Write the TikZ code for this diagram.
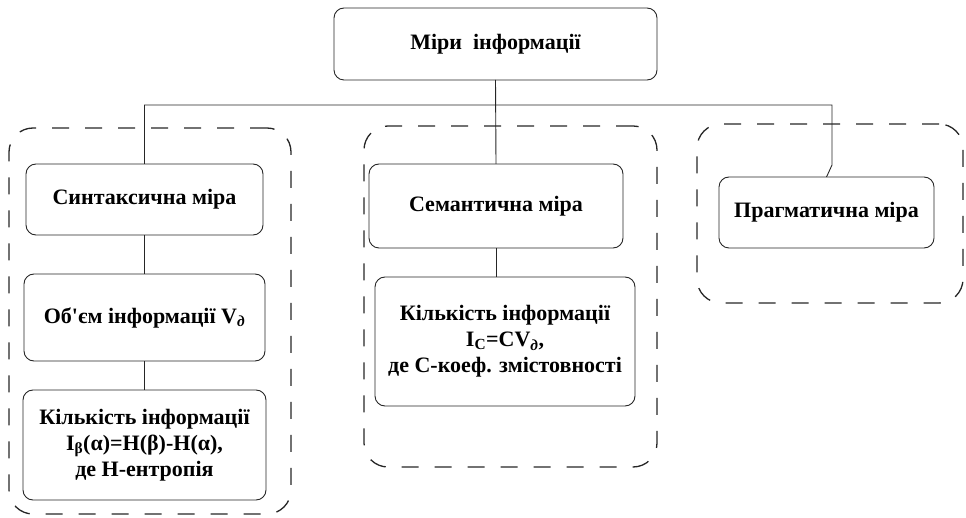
\documentclass[tikz,border=0pt]{standalone}
\usepackage{fontspec}
\setmainfont{Liberation Serif}
\newfontfamily\apfont{Liberation Serif}
\begin{document}
\begin{tikzpicture}[x=1pt,y=-1pt,
  every node/.style={inner sep=0pt, outer sep=0pt, font=\fontsize{22}{26}\selectfont\bfseries, align=center},
  box/.style={draw=black!85, line width=0.9pt, rounded corners=10pt},
  group/.style={draw=black!85, line width=1.3pt, rounded corners=24pt, dash pattern=on 17pt off 16pt},
  link/.style={draw=black!85, line width=0.9pt}]
\useasboundingbox (0,0) rectangle (966,518);
% dashed groups
\node[group, minimum width=282pt, minimum height=386pt] (g1) at (150,321) {};
\node[group, minimum width=293pt, minimum height=341pt] (g2) at (510.5,296.5) {};
\node[group, minimum width=266pt, minimum height=179pt] (g3) at (830,213.5) {};
% boxes
\node[box, minimum width=323pt, minimum height=72pt] (top) at (495.5,44) {Міри\ \ інформації};
\node[box, minimum width=241pt, minimum height=87pt] (vol) at (144.5,317.5) {Об{\apfont\bfseries '}єм інформації V\textsubscript{\textit{д}}};
\node[box, minimum width=237pt, minimum height=71pt] (syn) at (144.5,199.5) {Синтаксична міра};
\node[box, minimum width=243pt, minimum height=110pt] (qty) at (144.5,445) {Кількість інформації\\I\textsubscript{β}(α)=H(β)-H(α),\\де H-ентропія};
\node[box, minimum width=254pt, minimum height=84pt] (sem) at (496,206) {Семантична міра};
\node[box, minimum width=260pt, minimum height=129pt] (qty2) at (505,341.5) {Кількість інформації\\I\textsubscript{C}=CV\textsubscript{\textit{д}},\\де C-коеф. змістовності};
\node[box, minimum width=215pt, minimum height=71pt] (prag) at (826.5,212.5) {Прагматична міра};
% connectors
\coordinate (hr) at (832,105);
\coordinate (bend) at (832,165);
\draw[link] (top.south) -- (sem.north);
\draw[link] (syn.north) |- (hr) -- (bend) -- (prag.north);
\draw[link] (syn.south) -- (vol.north);
\draw[link] (vol.south) -- (qty.north);
\draw[link] (sem.south) -- (sem.south |- qty2.north);
\end{tikzpicture}
\end{document}
